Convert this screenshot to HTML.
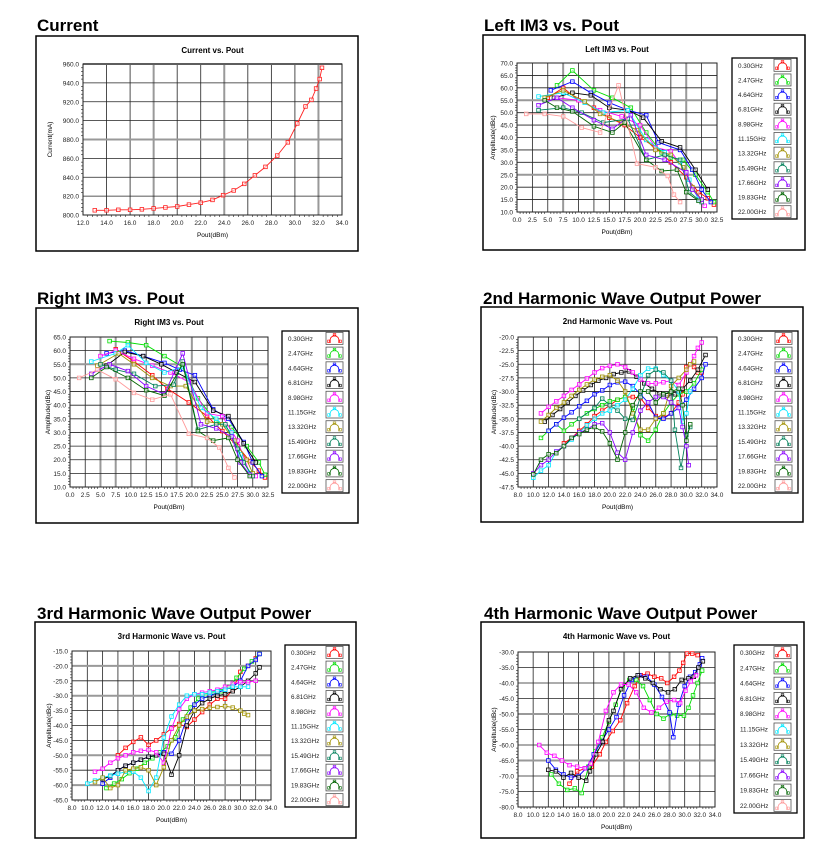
<!DOCTYPE html>
<html><head><meta charset="utf-8"><style>
html,body{margin:0;padding:0;background:#fff;}
svg{display:block;font-family:"Liberation Sans",Arial,sans-serif;}
</style></head><body>
<svg id="page" width="836" height="866" viewBox="0 0 836 866"></svg>
<script>
// ---------- DATA ----------
const FREQ_NAMES=["0.30GHz","2.47GHz","4.64GHz","6.81GHz","8.98GHz","11.15GHz","13.32GHz","15.49GHz","17.66GHz","19.83GHz","22.00GHz"];
const FREQ_COLORS=["#ff0000","#00dd00","#0000ff","#000000","#ff00ff","#00e8ff","#a09000","#00805a","#8a00ff","#006400","#ff9a9a"];

const CURRENT_X=[13,14,15,16,17,18,19,20,21,22,23,23.9,24.8,25.7,26.6,27.5,28.5,29.4,30.2,30.9,31.4,31.8,32.1,32.3];
const CURRENT_Y=[805,805,805.5,805.5,806,807,808,809,811,813,816,821,826,833,842,851,863,877,897,915,922,934,944,956];

const LIM3_0=[[5,56],[7.5,60],[10,55],[12.5,52],[15,48],[17.5,45],[20,40],[22.5,36],[25,30],[27.5,24],[29.5,18],[31,15.5],[32,13]];
const LIM3_1=[[6.5,61],[9,67],[12.5,59],[15.5,56],[18.5,52],[21,42],[23.5,34],[25,32],[27,31],[29,25],[31,18],[32,14]];
const LIM3_2=[[5.5,59],[9,62.5],[12,58],[15,54],[18,51],[21,49],[23,38],[26.5,35],[28.5,27],[30,19],[31.5,14]];
const LIM3_3=[[6,56],[9,58],[12,57],[15,52],[18,51],[20.5,48],[23.5,38.5],[26.5,36],[29,27],[31,19]];
const LIM3_4=[[6.5,56],[10,55],[13.5,51],[17,48.5],[20,45],[22.5,36],[25,34.5],[27.5,26],[29.5,15],[30.5,12.5]];
const LIM3_5=[[3.5,56.5],[7.5,58],[11,54],[14,50],[18,51],[21,39],[24,34],[26.5,30],[28,23],[29.5,15]];
const LIM3_6=[[4.5,56],[7.5,59],[11,54.5],[13.5,49.5],[17,46],[19.5,43],[22.5,35],[25,33],[27,28],[28.5,20],[30,15]];
const LIM3_7=[[3.5,51],[7.5,52],[10.5,50],[14,46],[18,47.5],[21,31],[24,33],[26.5,31],[28,18],[30,14]];
const LIM3_8=[[3.5,53],[6.5,56],[9,52],[12.5,47],[15.5,43.5],[18.5,49],[21,33],[24,31],[27.5,26],[28.5,19],[30,15]];
const LIM3_9=[[4.5,55],[6.5,52],[9,50.5],[12.5,44.5],[15.5,42],[17.5,46],[21,31],[23.5,26.5],[26,27],[27.5,18],[29.5,14.5]];
const LIM3_10=[[1.5,49.5],[4.5,49.5],[7.5,48.5],[10.5,44],[13.5,42],[16.5,61],[19.5,29.5],[22.5,28],[24.5,24.5],[25.5,17],[26.5,14]];

const RIM3_0=[[7.5,60.5],[10.5,56],[13.5,51],[16,46],[19.5,41],[22.5,36],[25,30.5],[27.5,25],[29.5,19.5],[31,16],[32,13.5]];
const RIM3_1=[[6.5,63.5],[9.5,63],[12.5,62],[15.5,58],[18.5,54],[21,42.5],[24,34],[26.5,32],[29,25],[31,19],[32,14.5]];
const RIM3_2=[[6,59],[9,60],[12,58],[15.5,55.5],[18,53],[20.5,51],[23.5,38.5],[26,35],[28.5,26.5],[30,19],[31.5,14]];
const RIM3_3=[[6,54.5],[9,59.5],[12,58],[15,55],[17.5,52],[20.5,48.5],[23.5,38],[26,36],[28.5,26],[30.5,19]];
const RIM3_4=[[5,58],[7.5,60],[10.5,57],[13.5,54.5],[16.5,52],[19.5,48.5],[22.5,37],[25,36],[27.5,27],[29.5,15],[30.5,14]];
const RIM3_5=[[3.5,56],[7.5,59],[9.5,62],[12.5,55.5],[15.5,52],[18.5,54],[21.5,39],[24,35],[26.5,30],[28,22],[29.5,15]];
const RIM3_6=[[4.5,54.5],[8,59],[10.5,55],[13.5,50],[16.5,47],[19,47],[22.5,34],[25,33],[27,27],[29,20],[30,15]];
const RIM3_7=[[5,55],[7.5,53],[10.5,51.5],[14,47],[17,47.5],[18.5,56],[21,31],[24,33],[25.5,33],[27.5,24],[28.5,19],[30,14]];
const RIM3_8=[[3.5,51.5],[6.5,55],[9.5,52.5],[12.5,47],[15.5,44],[18.5,59],[21.5,33],[24,31.5],[26.5,28.5],[28,19],[29.5,14.5]];
const RIM3_9=[[3.5,50],[6,54],[9.5,50],[12.5,45.5],[15.5,43.5],[18.5,55],[21,30.5],[23.5,27],[26,28],[27.5,20],[29.5,14]];
const RIM3_10=[[1.5,50],[4.5,53],[7.5,49.5],[10.5,44.5],[13.5,42],[16.5,44],[19.5,29.5],[22.5,28],[24.5,24.5],[26,17],[27,13.5]];

const H2_0=[[14,-39.5],[15,-38.5],[16,-37.2],[17,-36],[18,-34.5],[19,-33.5],[20,-32.5],[21,-31.5],[22,-31],[23,-31],[24,-31.2],[25,-33],[26,-34.5],[27,-34.8],[28,-34],[29,-32],[29.5,-30.5],[30,-25.5],[30.5,-25],[31,-25.5],[31.5,-26.5],[32,-26.5]];
const H2_1=[[11,-38.5],[12,-37.2],[13,-36],[14,-37.2],[15,-36],[16,-35],[17,-34],[18,-33.2],[19,-32.5],[20,-31.8],[21,-31.5],[22,-31],[23,-33],[24,-38],[25,-39],[26,-37],[27,-34],[28,-32],[29,-30.5],[30,-30],[31,-28.5],[32,-26]];
const H2_2=[[12,-37.2],[13,-36],[14,-34.8],[15,-33.8],[16,-32.7],[17,-31.7],[18,-30.5],[19,-29.8],[20,-28.8],[21,-28.3],[22,-28.2],[23,-29],[24,-30.5],[25,-32],[26,-34.8],[27,-35],[28,-34],[29,-33],[30,-31.5],[31,-29.5],[32,-27.5],[32.5,-25]];
const H2_3=[[11.5,-35.5],[12.5,-34.3],[13.5,-33.2],[14.5,-32],[15.5,-30.8],[16.5,-29.8],[17.5,-28.8],[18.5,-28],[19.5,-27.5],[20.5,-26.8],[21.5,-26.5],[22.5,-26.3],[23.5,-27.3],[24.5,-28.5],[25.5,-29.5],[26.5,-30.3],[27.5,-30.7],[28.5,-30.5],[29.5,-29.5],[30.5,-28],[31.5,-26],[32.5,-23.3]];
const H2_4=[[11,-34],[12,-32.8],[13,-31.8],[14,-30.8],[15,-29.7],[16,-28.7],[17,-27.6],[18,-26.5],[19,-25.7],[20,-25.3],[21,-25],[22,-25.5],[23,-26.5],[24,-27.8],[25,-28.5],[26,-28.5],[27,-28.3],[28,-28],[29,-28.8],[30,-26.5],[30.5,-25],[31,-23.5],[31.5,-22],[32,-21]];
const H2_5=[[10,-45.8],[11,-44.5],[12,-43.5],[13,-41],[14,-40],[15,-38.8],[16,-37.5],[17,-36.2],[18,-35],[19,-34],[20,-33.5],[21,-32.5],[22,-31.5],[23,-29.5],[24,-27],[25,-25.8],[26,-25.8],[27,-27],[28,-28],[29,-30],[29.5,-35.5],[30,-34],[30.5,-30]];
const H2_6=[[11,-35.5],[12,-34.3],[13,-33],[14,-32],[15,-30.8],[16,-29.7],[17,-28.7],[18,-27.8],[19,-27.3],[20,-27],[21,-28],[22,-30],[23,-34],[24,-37],[25,-37],[26,-35],[27,-34],[28,-29],[29,-27.5],[30,-26],[30.5,-25],[31,-24.5]];
const H2_7=[[16,-35],[18,-33],[19,-31.3],[20,-32.5],[21,-33.5],[22,-35],[23,-35.2],[24,-31],[25,-27],[26,-26],[27,-26.5],[28,-28],[28.5,-37],[29.3,-44],[30,-38],[30.5,-36.5]];
const H2_8=[[10,-45],[11,-43.5],[12,-42.5],[13,-41],[14,-40],[15,-38.5],[16,-37.5],[17,-37],[18,-36],[19,-35.8],[20,-37.5],[21,-41.2],[22,-42.5],[23,-37.5],[24,-33.5],[25,-32],[26,-31],[27,-31],[28,-32],[29,-33],[29.5,-36.5],[30,-40],[30.3,-43.5]];
const H2_9=[[10,-45.2],[11,-42.5],[12,-41.5],[13,-41.3],[14,-40],[15,-38.5],[16,-37.8],[17,-37],[18,-36.5],[19,-37.3],[20,-39.5],[21,-42.5],[22,-37.5],[23,-32.5],[24,-30],[25,-30],[26,-32],[27,-30.5],[28,-30],[29,-29.5],[29.5,-32.5],[30,-39],[30.5,-36]];

const H3_0=[[14,-50],[15,-47.5],[16,-45.5],[17,-44],[18,-46.5],[19,-45],[20,-43],[21,-41],[22,-39.5],[23,-40.5],[24,-38],[25,-35.5],[26,-33],[27,-31],[28,-31],[29,-28],[30,-22],[31,-20],[32,-17.5]];
const H3_1=[[12.5,-61],[13.5,-59.5],[14.5,-58],[15.5,-56],[16.5,-54.5],[17.5,-52.5],[18.5,-51],[19.5,-49],[20.5,-47],[21.5,-44],[22.5,-38],[23.5,-34],[24.5,-31],[25.5,-30],[26.5,-29],[27.5,-28.5],[28.5,-27],[29.5,-24],[30.5,-21],[31.5,-18.5],[32.5,-16]];
const H3_2=[[12,-59.5],[13,-57.5],[14,-55],[15,-53.5],[16,-52.5],[17,-51.5],[18,-50.5],[19,-50],[20,-49],[21,-49.5],[22,-45],[23,-37.5],[24,-33],[25,-31],[26,-30],[27,-29],[28,-28],[29,-27],[30,-25],[31,-20],[32,-18],[32.5,-16]];
const H3_3=[[12,-58],[13,-57],[14,-55],[15,-53.5],[16,-52.5],[17,-51.5],[18,-50.5],[19,-50],[20,-49.5],[21,-56.5],[22,-50],[23,-40],[24,-35],[25,-32.5],[26,-31],[27,-30],[28,-29.5],[29,-28.5],[30,-27],[31,-25],[32,-22.5],[32.5,-20.5]];
const H3_4=[[11,-55.5],[12,-54.5],[13,-52.5],[14,-51],[15,-50],[16,-49],[17,-48.5],[18,-48.2],[19,-49],[20,-52.5],[21,-41],[22,-34.5],[23,-31],[24,-29.5],[25,-29],[26,-28.5],[27,-28],[28,-27],[29,-26],[30,-25.5],[31,-25.5],[32,-25]];
const H3_5=[[10,-59.5],[11,-58.5],[12,-57.5],[13,-56.8],[14,-56.2],[15,-55.5],[16,-55.5],[17,-57.5],[18,-62],[19,-57.5],[20,-44],[21,-37],[22,-33],[23,-30],[24,-29.5],[25,-29.5],[26,-29],[27,-28.5],[28,-28],[29,-27],[30,-27],[31,-27]];
const H3_6=[[11,-59],[12,-57.5],[13,-61],[14,-60],[15,-55],[16,-54.5],[17,-54],[18,-55],[19,-60],[20,-54],[21,-45],[22,-40],[23,-37],[24,-35],[25,-34.5],[26,-34],[27,-33.8],[28,-33.5],[29,-34],[30,-35],[30.5,-36],[31,-36.5]];

const H4_0=[[14.8,-72.5],[15.8,-68.5],[16.9,-67.5],[17.7,-67],[18.8,-63],[19.6,-59],[20.5,-55.5],[21.5,-52],[22.4,-46.5],[23.4,-41],[24.2,-37.5],[25.1,-37],[26,-38],[26.9,-38.5],[27.7,-40],[28.6,-38],[29.3,-36],[29.8,-33.5],[30.3,-30.5],[31,-30.5],[31.7,-31]];
const H4_1=[[12.4,-69.5],[13.4,-72.5],[14.5,-74.5],[15.5,-74],[16.4,-75.5],[17.3,-67],[18.2,-62],[19.1,-57.5],[20,-52.5],[20.9,-47],[21.8,-41],[22.7,-39],[23.6,-39],[24.5,-41],[25.4,-45.5],[26.3,-50],[27.2,-51.5],[28.1,-50],[29,-50.5],[29.9,-50.5],[30.5,-48],[31.1,-44],[31.7,-40],[32.3,-36]];
const H4_2=[[12,-65],[13,-68],[14,-69.5],[15,-70.5],[16,-70],[17,-67.5],[18,-63],[19,-59],[20,-55],[21,-51],[22,-44],[23,-39],[24,-37.5],[25,-38],[26,-40.5],[27,-44.5],[28,-49.5],[28.5,-57.5],[29.2,-47],[30,-41],[30.7,-38],[31.4,-36.5],[32,-34],[32.3,-32]];
const H4_3=[[12,-68],[13,-68.5],[14,-70.5],[15,-69],[16,-70.5],[17,-71.5],[17.5,-68.5],[18.3,-63],[19.2,-59],[20,-52],[20.6,-49],[21.6,-42],[22.8,-38.5],[23.8,-37.5],[24.8,-38.5],[25.8,-40],[26.8,-42],[27.8,-43],[28.7,-42],[29.6,-39],[30.5,-38.5],[31.2,-38],[31.8,-35],[32.4,-33]];
const H4_4=[[10.8,-60],[11.8,-62.5],[12.8,-63.5],[13.8,-65],[14.8,-66.5],[15.8,-67],[16.8,-67.5],[17.6,-66],[18.6,-59],[19.6,-49],[20.6,-43],[21.6,-40.5],[22.6,-40.5],[23.6,-43],[24.6,-48],[25.6,-49.5],[26.6,-48],[27.6,-46],[28.6,-45.5],[29.4,-46.5],[30.1,-42.5],[30.8,-39.5],[31.5,-37.5]];

// ---------- DRAWING ----------
const NS="http://www.w3.org/2000/svg";
const page=document.getElementById('page');
function mk(tag,attrs,parent){const e=document.createElementNS(NS,tag);for(const k in attrs)e.setAttribute(k,attrs[k]);(parent||page).appendChild(e);return e;}
function txt(s,attrs,parent){const e=mk('text',attrs,parent);e.textContent=s;return e;}

function heading(s,x,y,name){
  const t=txt(s,{x:x,y:y,'font-size':17,'font-weight':'bold',fill:'#000'});
  
  
}

function chart(o){
  const g=mk('g',{});
  
  
  const fr=mk('rect',{x:o.fx,y:o.fy,width:o.fw,height:o.fh,fill:'#fff',stroke:'#000','stroke-width':1.5},g);
  
  
  const sx=v=>o.px0+(v-o.xmin)/(o.xmax-o.xmin)*(o.px1-o.px0);
  const sy=v=>o.py1-(v-o.ymin)/(o.ymax-o.ymin)*(o.py1-o.py0);
  const t=txt(o.title,{x:(o.px0+o.px1)/2,y:o.fy+17,'font-size':8,'font-weight':'bold','text-anchor':'middle'},g);
  
  
  const nx=Math.round((o.xmax-o.xmin)/o.xstep), ny=Math.round((o.ymax-o.ymin)/o.ystep);
  for(let i=0;i<=nx;i++){
    const v=o.xmin+i*o.xstep,X=sx(v);
    const thick=o.thickX&&o.thickX.includes(i);
    const ln=mk('line',{x1:X,y1:o.py0,x2:X,y2:o.py1,stroke:thick?'#999':'#222','stroke-width':thick?2:0.8},g);
    
    
    const lb=txt(v.toFixed(1),{x:X,y:o.py1+10,'font-size':6.5,'text-anchor':'middle',fill:'#222'},g);
    
    
    if(i<nx){for(let m=1;m<5;m++){const mx=sx(v+o.xstep*m/5);mk('line',{x1:mx,y1:o.py1,x2:mx,y2:o.py1+2,stroke:'#222','stroke-width':0.6},g);}}
  }
  for(let j=0;j<=ny;j++){
    const v=o.ymin+j*o.ystep,Y=sy(v);
    const thick=o.thickY&&o.thickY.includes(j);
    const ln=mk('line',{x1:o.px0,y1:Y,x2:o.px1,y2:Y,stroke:thick?'#999':'#222','stroke-width':thick?2:0.8},g);
    
    
    const lb=txt(v.toFixed(1),{x:o.px0-4,y:Y+2.5,'font-size':6.5,'text-anchor':'end',fill:'#222'},g);
    
    
    if(j<ny){for(let m=1;m<5;m++){const my=sy(v+o.ystep*m/5);mk('line',{x1:o.px0-2,y1:my,x2:o.px0,y2:my,stroke:'#222','stroke-width':0.6},g);}}
  }
  mk('rect',{x:o.px0,y:o.py0,width:o.px1-o.px0,height:o.py1-o.py0,fill:'none',stroke:'#222','stroke-width':1},g);
  const xl=txt(o.xlabel,{x:(o.px0+o.px1)/2,y:o.py1+22,'font-size':6.5,'text-anchor':'middle'},g);
  
  
  const yx=o.px0-(o.ylOff||22), yy=(o.py0+o.py1)/2;
  const yl=txt(o.ylabel,{x:yx,y:yy,'font-size':6.5,'text-anchor':'middle',transform:`rotate(-90 ${yx} ${yy})`},g);
  
  
  o.series.forEach((s,k)=>{
    const sg=mk('g',{},g);
    
    
    const pts=s.data.map(p=>sx(p[0]).toFixed(1)+','+sy(p[1]).toFixed(1)).join(' ');
    const pl=mk('polyline',{points:pts,fill:'none',stroke:s.color,'stroke-width':0.9},sg);
    
    
    s.data.forEach(p=>{
      const r=mk('rect',{x:sx(p[0])-1.8,y:sy(p[1])-1.8,width:3.6,height:3.6,fill:'#fff','fill-opacity':0.6,stroke:s.color,'stroke-width':0.8},sg);
      
      
    });
  });
  if(o.legend){
    const L=o.legend;
    const lg=mk('g',{},g);
    
    
    mk('rect',{x:L.x,y:L.y,width:L.w,height:L.h,fill:'#fff',stroke:'#000','stroke-width':1.3},lg);
    const rh=L.h/11;
    FREQ_NAMES.forEach((n,i)=>{
      const cy=L.y+rh*(i+0.5);
      const e=mk('g',{},lg);
      
      
      txt(n,{x:L.x+6,y:cy+2.5,'font-size':6.3,fill:'#222'},e);
      const bx=L.x+L.w-23, by=cy-6;
      mk('rect',{x:bx,y:by,width:17,height:12,fill:'#fff',stroke:'#555','stroke-width':0.8},e);
      mk('polyline',{points:`${bx+3},${by+10} ${bx+5},${by+5} ${bx+8.5},${by+2.5} ${bx+12},${by+5} ${bx+14},${by+10}`,fill:'none',stroke:FREQ_COLORS[i],'stroke-width':0.8},e);
      [[bx+3,by+9],[bx+8.5,by+2.5],[bx+14,by+9]].forEach(q=>mk('rect',{x:q[0]-1.3,y:q[1]-1.3,width:2.6,height:2.6,fill:'none',stroke:FREQ_COLORS[i],'stroke-width':0.6},e));
    });
  }
}

function ser(arrs){return arrs.map((d,i)=>({data:d,color:FREQ_COLORS[i],name:FREQ_NAMES[i]}));}

heading('Current',37,31,'current-heading');
heading('Left  IM3  vs.  Pout',484,31,'left-im3-heading');
heading('Right  IM3  vs.  Pout',37,304,'right-im3-heading');
heading('2nd Harmonic Wave Output Power',483,304,'h2-heading');
heading('3rd Harmonic Wave Output Power',37,619,'h3-heading');
heading('4th Harmonic Wave Output Power',484,619,'h4-heading');

chart({name:'current-chart',fx:36,fy:36,fw:322,fh:215,px0:83,px1:342,py0:64,py1:215,xmin:12,xmax:34,xstep:2,ymin:800,ymax:960,ystep:20,ylOff:31,
  title:'Current vs. Pout',xlabel:'Pout(dBm)',ylabel:'Current(mA)',thickX:[3,6,10],thickY:[4,8],
  series:[{data:CURRENT_X.map((x,i)=>[x,CURRENT_Y[i]]),color:'#ff2020',name:'current'}]});

chart({name:'left-im3-chart',fx:483,fy:35,fw:322,fh:215,px0:517,px1:717,py0:63,py1:212,xmin:0,xmax:32.5,xstep:2.5,ymin:10,ymax:70,ystep:5,
  title:'Left IM3 vs. Pout',xlabel:'Pout(dBm)',ylabel:'Amplitude(dBc)',thickX:[3,8,11],thickY:[3,9],
  legend:{x:732,y:58,w:65,h:161},
  series:ser([LIM3_0,LIM3_1,LIM3_2,LIM3_3,LIM3_4,LIM3_5,LIM3_6,LIM3_7,LIM3_8,LIM3_9,LIM3_10])});

chart({name:'right-im3-chart',fx:36,fy:308,fw:322,fh:215,px0:70,px1:268,py0:337,py1:487,xmin:0,xmax:32.5,xstep:2.5,ymin:10,ymax:65,ystep:5,ylOff:20,
  title:'Right IM3 vs. Pout',xlabel:'Pout(dBm)',ylabel:'Amplitude(dBc)',thickX:[2,3,7,8],thickY:[9],
  legend:{x:282,y:331,w:67,h:162},
  series:ser([RIM3_0,RIM3_1,RIM3_2,RIM3_3,RIM3_4,RIM3_5,RIM3_6,RIM3_7,RIM3_8,RIM3_9,RIM3_10])});

chart({name:'h2-chart',fx:481,fy:307,fw:322,fh:215,px0:518,px1:717,py0:337,py1:487,xmin:8,xmax:34,xstep:2,ymin:-47.5,ymax:-20,ystep:2.5,
  title:'2nd Harmonic Wave vs. Pout',xlabel:'Pout(dBm)',ylabel:'Amplitude(dBc)',thickX:[3,7],thickY:[],
  legend:{x:732,y:331,w:66,h:162},
  series:ser([H2_0,H2_1,H2_2,H2_3,H2_4,H2_5,H2_6,H2_7,H2_8,H2_9])});

chart({name:'h3-chart',fx:35,fy:622,fw:321,fh:216,px0:72,px1:271,py0:651,py1:800,xmin:8,xmax:34,xstep:2,ymin:-65,ymax:-15,ystep:5,ylOff:21,
  title:'3rd Harmonic Wave vs. Pout',xlabel:'Pout(dBm)',ylabel:'Amplitude(dBc)',thickX:[],thickY:[1,3,7,9],
  legend:{x:285,y:645,w:64,h:162},
  series:ser([H3_0,H3_1,H3_2,H3_3,H3_4,H3_5,H3_6])});

chart({name:'h4-chart',fx:481,fy:622,fw:323,fh:216,px0:518,px1:715,py0:652,py1:807,xmin:8,xmax:34,xstep:2,ymin:-80,ymax:-30,ystep:5,
  title:'4th Harmonic Wave vs. Pout',xlabel:'Pout(dBm)',ylabel:'Amplitude(dBc)',thickX:[7,10],thickY:[3,6],
  legend:{x:734,y:645,w:63,h:168},
  series:ser([H4_0,H4_1,H4_2,H4_3,H4_4])});
</script>
</body></html>
